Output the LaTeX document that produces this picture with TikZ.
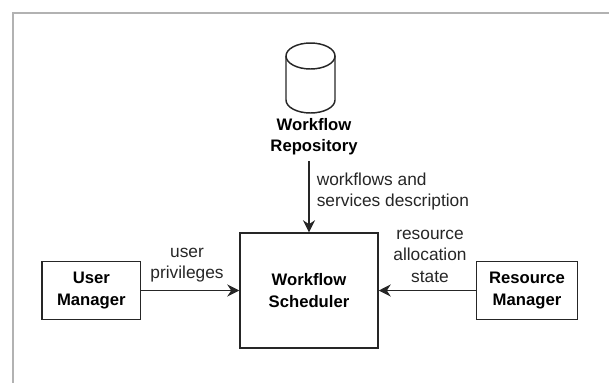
\documentclass[tikz,border=0pt]{standalone}
\usepackage{fontspec}
\setmainfont{Liberation Sans}
\usepackage{tikz}
\usetikzlibrary{positioning, arrows.meta}

\tikzset{
  block/.style={draw=black!85, line width=1.1pt, inner sep=0pt, align=center, font=\fontsize{12.5}{16.1}\selectfont\bfseries},
  flowlabel/.style={inner sep=0pt, align=center, text=black!85, font=\fontsize{13}{16.1}\selectfont},
  flow/.style={draw=black!85, line width=1.1pt, -{Stealth[length=9pt, width=9pt]}},
  drum/.style={draw=black!85, line width=1.1pt}
}

\begin{document}
\begin{tikzpicture}[x=0.75pt, y=-0.75pt]
   \useasboundingbox (0,0) rectangle (609,383);
   \draw[black!30, line width=1.5pt] (609,12.5) -- (12.5,12.5) -- (12.5,383);

   \node[block, minimum width=138pt*0.75, minimum height=115pt*0.75] (sched) at (309,290.5) {Workflow\\Scheduler};
   \node[block, minimum width=98.5pt*0.75, minimum height=57.5pt*0.75] (user) at (91.3,290.5) {User\\Manager};
   \node[block, minimum width=100.5pt*0.75, minimum height=57.5pt*0.75] (res) at (527,290.5) {Resource\\Manager};

   \draw[drum] (310.5,56) ellipse [x radius=24.5, y radius=13];
   \draw[drum] (286,56) -- (286,100) arc [start angle=180, end angle=0, x radius=24.5, y radius=13] -- (335,56);
   \node[block, draw=none] (repo) at (314,136.5) {Workflow\\Repository};

   \node[flowlabel, align=left, anchor=west] (desc) at (316.5,191.5) {workflows and\\services description};
   \node[flowlabel] (priv) at (187,265) {user\\privileges};
   \node[flowlabel] (state) at (430,256) {resource\\allocation\\state};

   \coordinate (repoout) at (309,161);
   \draw[flow] (repoout) -- (sched.north);
   \draw[flow] (user) -- (sched);
   \draw[flow] (res) -- (sched);
\end{tikzpicture}
\end{document}
